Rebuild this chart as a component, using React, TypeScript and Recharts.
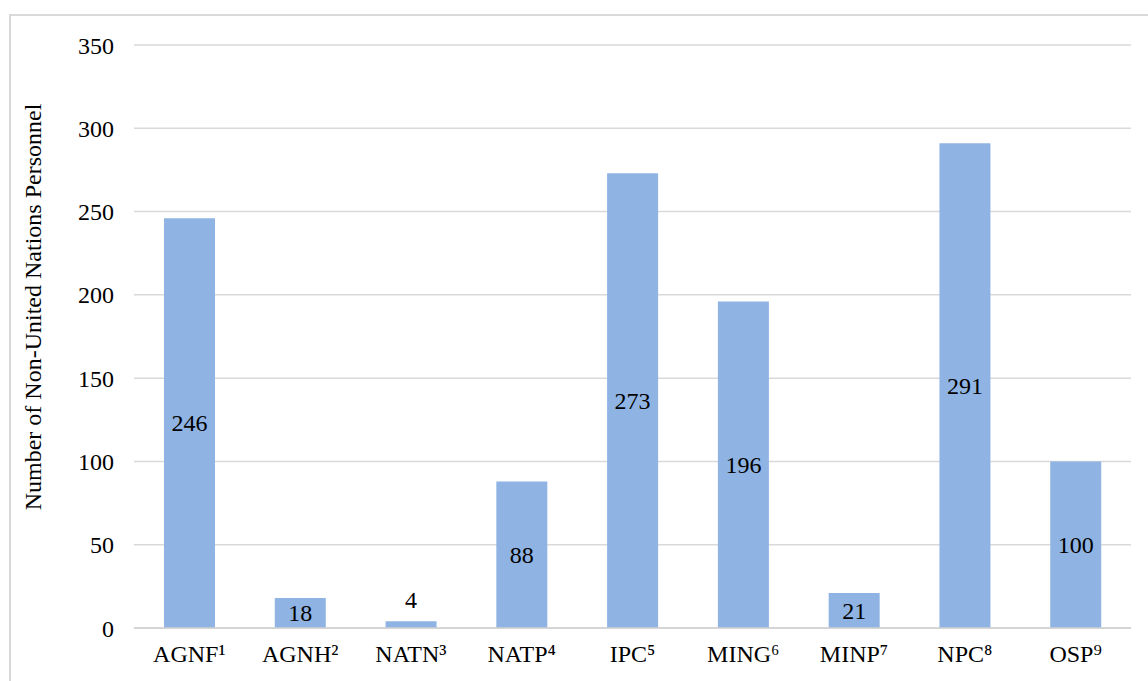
import { BarChart, Bar, XAxis, YAxis, CartesianGrid, LabelList } from 'recharts'

const categories = ['AGNF¹', 'AGNH²', 'NATN³', 'NATP⁴', 'IPC⁵', 'MING⁶', 'MINP⁷', 'NPC⁸', 'OSP⁹']
const personnel = [246, 18, 4, 88, 273, 196, 21, 291, 100]
const yTicks = [0, 50, 100, 150, 200, 250, 300, 350]

const data = categories.map((name, i) => ({ name, value: personnel[i] }))

const FONT = 'Liberation Serif, DejaVu Serif, serif'

// value labels sit in the middle of the bar, tiny bars get them on top
function ValueLabel(props: any) {
  const { x, y, width, height, value } = props
  const cx = x + width / 2
  const small = value < 10
  const cy = small ? y - 21 : y + height / 2
  return (
    <text
      x={cx}
      y={cy}
      textAnchor="middle"
      dominantBaseline="central"
      style={{ fontFamily: FONT, fontSize: 24 }}
      fill="#000"
    >
      {value}
    </text>
  )
}

export default function App() {
  return (
    <div
      style={{
        position: 'fixed',
        left: 0,
        top: 0,
        width: 1148,
        height: 681,
        overflow: 'hidden',
        background: '#fff',
        fontFamily: FONT,
      }}
    >
      <div
        style={{
          position: 'absolute',
          left: 9,
          top: 14,
          width: 1200,
          height: 720,
          border: '2px solid #d9d9d9',
          boxSizing: 'border-box',
        }}
      />
      <div style={{ position: 'absolute', left: 0, top: 0 }}>
        <BarChart
          width={1148}
          height={681}
          data={data}
          margin={{ top: 45, right: 17, bottom: 23, left: 0 }}
          barSize={51}
          style={{ fontFamily: FONT }}
        >
          <CartesianGrid vertical={false} stroke="#d9d9d9" strokeWidth={1.5} />
          <XAxis
            dataKey="name"
            axisLine={{ stroke: '#d0d0d0', strokeWidth: 1.5 }}
            tickLine={false}
            tickMargin={11}
            tick={{ fontSize: 24, fill: '#000', style: { fontFamily: FONT } }}
          />
          <YAxis
            width={134}
            domain={[0, 350]}
            ticks={yTicks}
            axisLine={false}
            tickLine={false}
            tickMargin={14}
            tick={{ fontSize: 24, fill: '#000', style: { fontFamily: FONT } }}
            label={{
              content: () => (
                <text
                  x={33}
                  y={307}
                  transform="rotate(-90 33 307)"
                  textAnchor="middle"
                  dominantBaseline="central"
                  style={{ fontFamily: FONT, fontSize: 24 }}
                  fill="#000"
                >
                  Number of Non-United Nations Personnel
                </text>
              ),
            }}
          />
          <Bar dataKey="value" fill="#8FB4E3" isAnimationActive={false}>
            <LabelList dataKey="value" content={ValueLabel} />
          </Bar>
        </BarChart>
      </div>
    </div>
  )
}
